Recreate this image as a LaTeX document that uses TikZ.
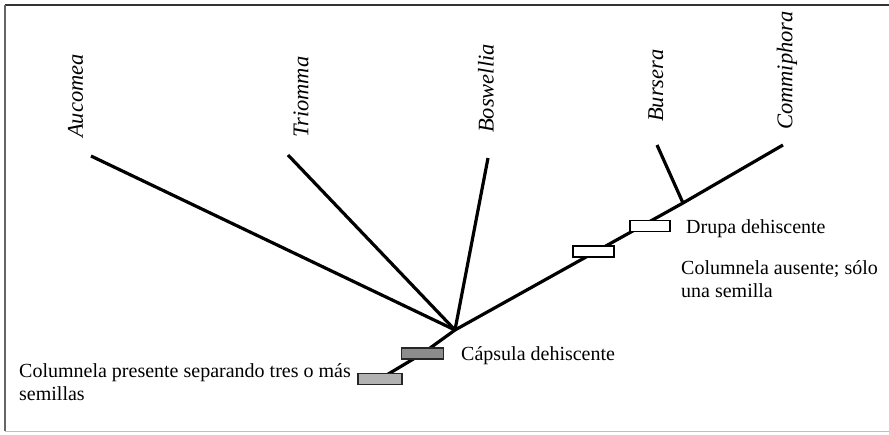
\documentclass[tikz,border=0pt]{standalone}
\usepackage{fontspec}
\setmainfont{Liberation Serif}
\begin{document}
\begin{tikzpicture}[x=1pt,y=-1pt,
  branch/.style={line width=3.2pt,black},
  taxon/.style={font=\fontsize{22.5}{26}\selectfont\itshape,rotate=90,anchor=west,inner sep=0pt},
  note/.style={font=\fontsize{20}{23}\selectfont,align=left,anchor=base west,inner sep=0pt},
  graybox/.style={draw=black!85,line width=1.6pt,inner sep=0pt,minimum width=#1,minimum height=11pt},
  whitebox/.style={draw=black,fill=white,line width=1.4pt,inner sep=0pt,minimum width=#1,minimum height=11pt}]
  \useasboundingbox (0,0) rectangle (889,434);
  % frame
  \draw[line width=2.4pt,black!80] (5,5) -- (889,5);
  \draw[line width=1.4pt,black!60] (5,5) -- (5,431);
  \draw[line width=1pt,black!25] (5,431) -- (889,431);

  % branch points, tips and character positions on the stem
  \coordinate (root) at (455,330);
  \coordinate (join) at (683,203);
  \coordinate (tAuc) at (91,156);
  \coordinate (tTri) at (288,155);
  \coordinate (tBos) at (488,158);
  \coordinate (tBur) at (657,145);
  \coordinate (tCom) at (783,145);
  \coordinate (cap) at (422.5,353.5);
  \coordinate (col) at (380,379);
  \coordinate (dru) at (650,226);
  \coordinate (aus) at (593.5,251.5);

  % branches
  \draw[branch] (col) -- (cap) -- (root) -- (join) -- (tCom);
  \draw[branch] (root) -- (tAuc);
  \draw[branch] (root) -- (tTri);
  \draw[branch] (root) -- (tBos);
  \draw[branch] (join) -- (tBur);

  % character boxes above the stem
  \node[graybox=42pt,fill=black!45] (bCap) at (cap) {};
  \node[graybox=44pt,fill=black!30] (bCol) at (col) {};
  \node[whitebox=40pt] (bDru) at (dru) {};
  \node[whitebox=41pt] (bAus) at (aus) {};

  % taxon names
  \node[taxon] (nAuc) at (75.5,138) {Aucomea};
  \node[taxon] (nTri) at (301,138) {Triomma};
  \node[taxon] (nBos) at (486,133) {Boswellia};
  \node[taxon] (nBur) at (656,122) {Bursera};
  \node[taxon] (nCom) at (787,130) {Commiphora};

  % character labels (base anchor sits on the last line)
  \node[note] (lDru) at (686,233) {Drupa dehiscente};
  \node[note] (lAus) at (681,297) {Columnela ausente; sólo\\una semilla};
  \node[note] (lCap) at (461,360) {Cápsula dehiscente};
  \node[note] (lCol) at (19,400) {Columnela presente separando tres o más\\semillas};
\end{tikzpicture}
\end{document}
